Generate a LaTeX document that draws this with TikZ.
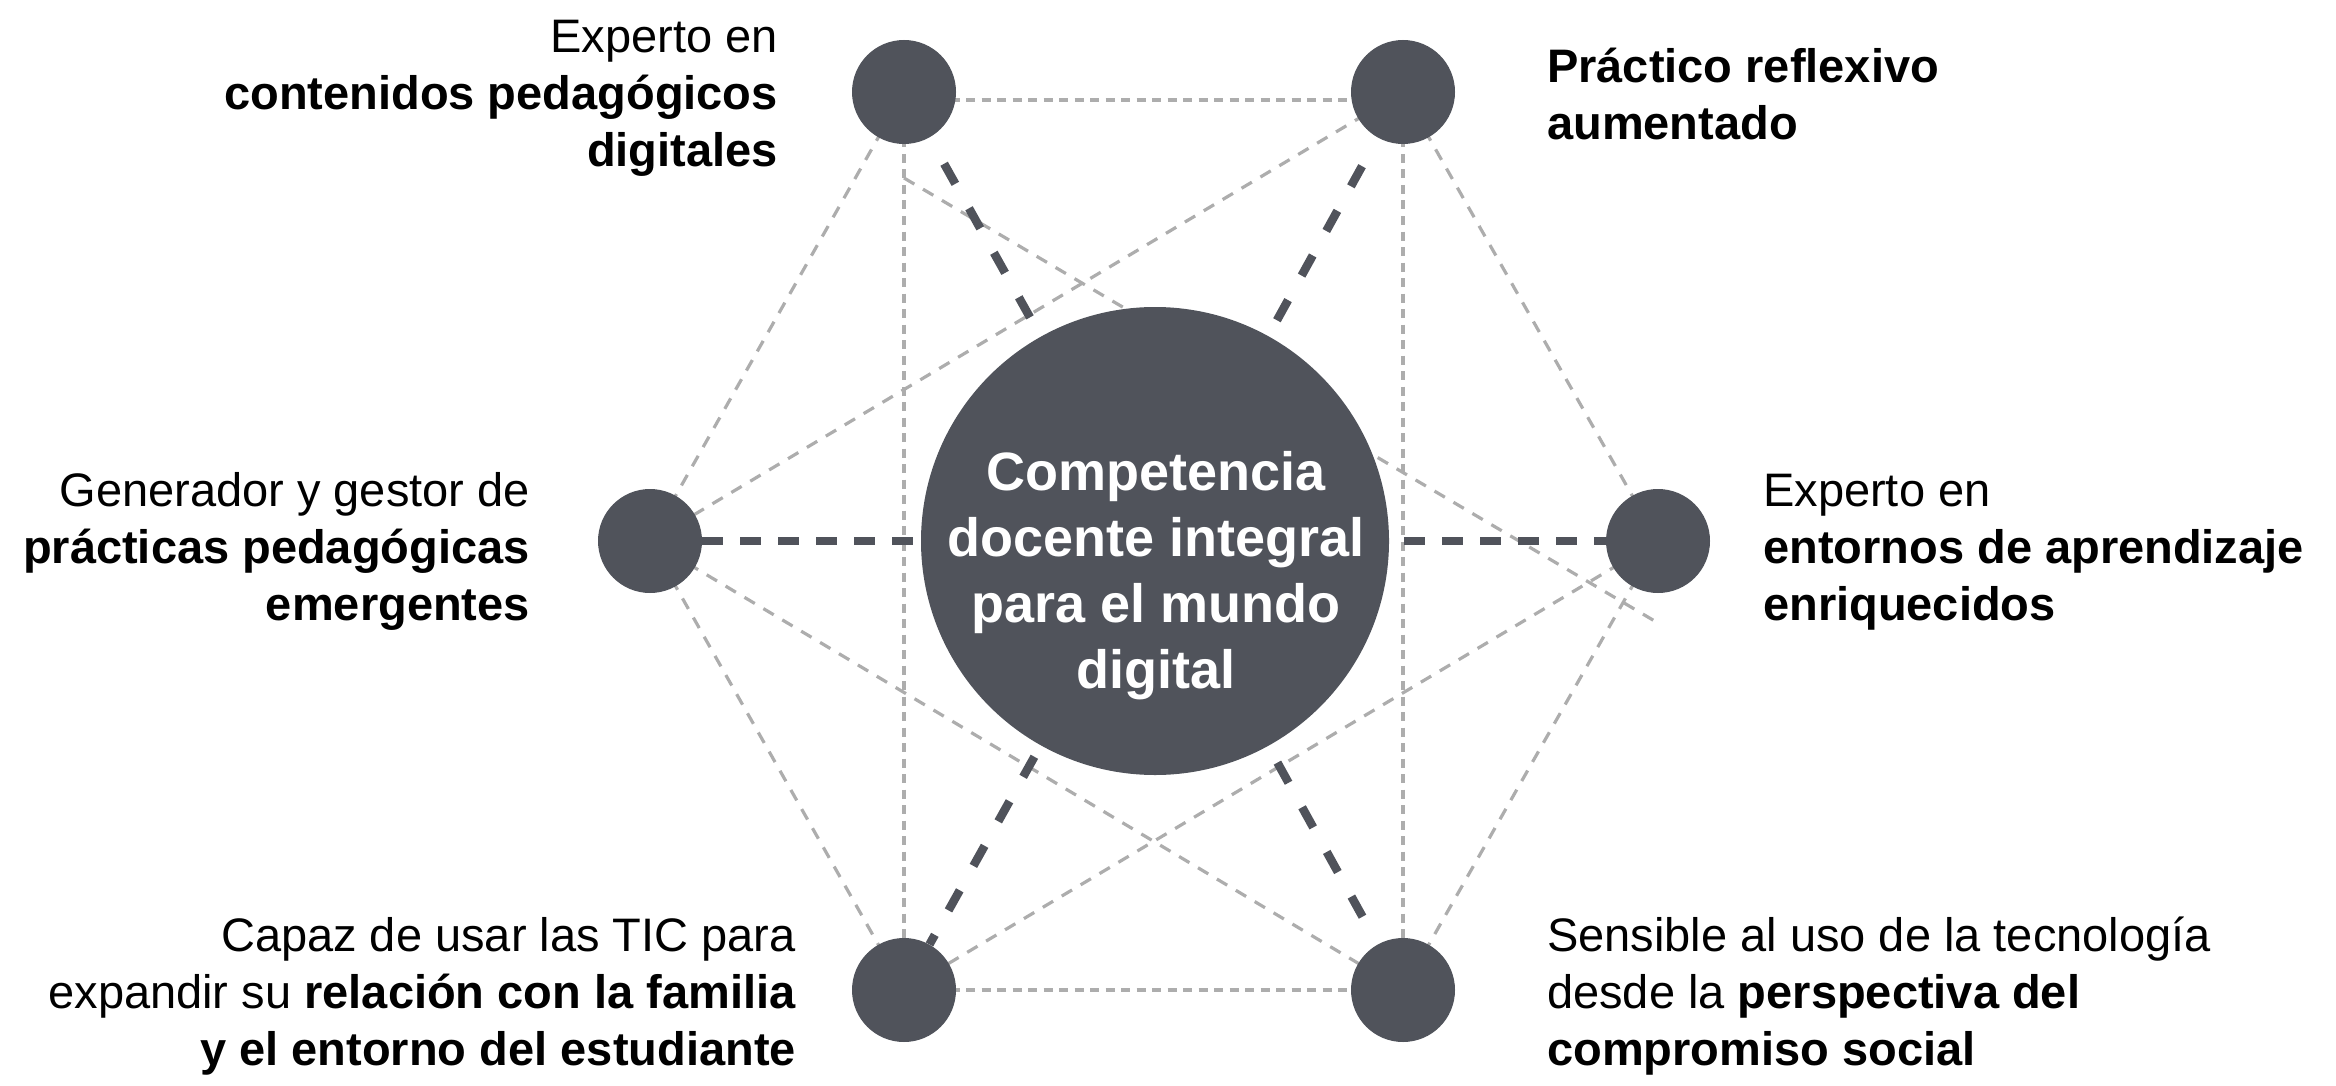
\documentclass[tikz,border=0pt]{standalone}
\usepackage{fontspec}
\setmainfont{Liberation Sans}
\usetikzlibrary{calc,backgrounds}
\definecolor{nodegray}{HTML}{50535B}
\definecolor{linegray}{HTML}{ADADAD}
\begin{document}
\begin{tikzpicture}[x=1pt,y=-1pt,
  dot/.style={circle,fill=nodegray,draw=none,minimum size=104pt,inner sep=0pt},
  hub/.style={circle,fill=nodegray,draw=none,minimum size=468pt,inner sep=0pt},
  lbl/.style={inner sep=0pt,text=black,font=\fontsize{47}{57}\selectfont},
  hubtext/.style={inner sep=0pt,text=white,align=center,font=\bfseries\fontsize{54}{66}\selectfont},
  lightdash/.style={draw=linegray,line width=3.2pt,dash pattern=on 12pt off 10pt},
  lightdot/.style={draw=linegray,line width=3.2pt,dash pattern=on 9pt off 6.5pt},
  spokediag/.style={draw=nodegray,line width=8.5pt,dash pattern=on 23pt off 28pt},
  spokehor/.style={draw=nodegray,line width=8.5pt,dash pattern=on 21pt off 17pt}
]
\useasboundingbox (0,0) rectangle (2336,1086);

% nodes
\node[hub] (c)  at (1155,541) {};
\node[dot] (tl) at (904,92) {};
\node[dot] (tr) at (1403,92) {};
\node[dot] (l)  at (650,541) {};
\node[dot] (r)  at (1658,541) {};
\node[dot] (bl) at (904,990) {};
\node[dot] (br) at (1403,990) {};

% helper coordinates
\coordinate (tlh) at ($(tl)+(0,8)$);
\coordinate (trh) at ($(tr)+(0,8)$);
\coordinate (tlo) at ($(tl)+(0,86)$);
\coordinate (ro)  at ($(r)+(0,82)$);

\begin{pgfonlayer}{background}
  % horizontal / vertical fine lines
  \draw[lightdot] (tlh) -- (trh);
  \draw[lightdot] (bl.center) -- (br.center);
  \draw[lightdot] (tl.center) -- (bl.center);
  \draw[lightdot] (tr.center) -- (br.center);
  % hexagon edges
  \draw[lightdash] (tl.center) -- (l.center);
  \draw[lightdash] (l.center) -- (bl.center);
  \draw[lightdash] (tr.center) -- (r.center);
  \draw[lightdash] (r.center) -- (br.center);
  % star lines
  \draw[lightdash] (tr.center) -- (l.center);
  \draw[lightdash] (l.center) -- (br.center);
  \draw[lightdash] (r.center) -- (bl.center);
  \draw[lightdash] (tlo) -- (ro);
\end{pgfonlayer}

% thick spokes
\draw[spokediag, shorten <=22pt, shorten >=27pt] (c) -- (tl);
\draw[spokediag, shorten <=18pt, shorten >=29pt] (c) -- (tr);
\draw[spokediag, shorten <=13pt] (c) -- (bl);
\draw[spokediag, shorten <=19pt, shorten >=27pt] (c) -- (br);
\draw[spokehor] (l) -- (c);
\draw[spokehor, shorten <=15pt] (c) -- (r);

% centre text (base anchor = last line)
\node[hubtext, anchor=base] (ctext) at (1156,688)
  {Competencia\\docente integral\\para el mundo\\digital};

% labels (base anchor = last line)
\node[lbl, anchor=base east, align=right] (ltl) at (778,167)
  {Experto en\\\textbf{contenidos pedagógicos}\\\textbf{digitales}};
\node[lbl, anchor=base west, align=left] (ltr) at (1547,140)
  {\textbf{Práctico reflexivo}\\\textbf{aumentado}};
\node[lbl, anchor=base east, align=right] (ll) at (530,620)
  {Generador y gestor de\\\textbf{prácticas pedagógicas}\\\textbf{emergentes}};
\node[lbl, anchor=base west, align=left] (lr) at (1763,620)
  {Experto en\\\textbf{entornos de aprendizaje}\\\textbf{enriquecidos}};
\node[lbl, anchor=base east, align=right] (lbl1) at (796,1065)
  {Capaz de usar las TIC para\\expandir su \textbf{relación con la familia}\\\textbf{y el entorno del estudiante}};
\node[lbl, anchor=base west, align=left] (lbr) at (1547,1065)
  {Sensible al uso de la tecnología\\desde la \textbf{perspectiva del}\\\textbf{compromiso social}};
\end{tikzpicture}
\end{document}
